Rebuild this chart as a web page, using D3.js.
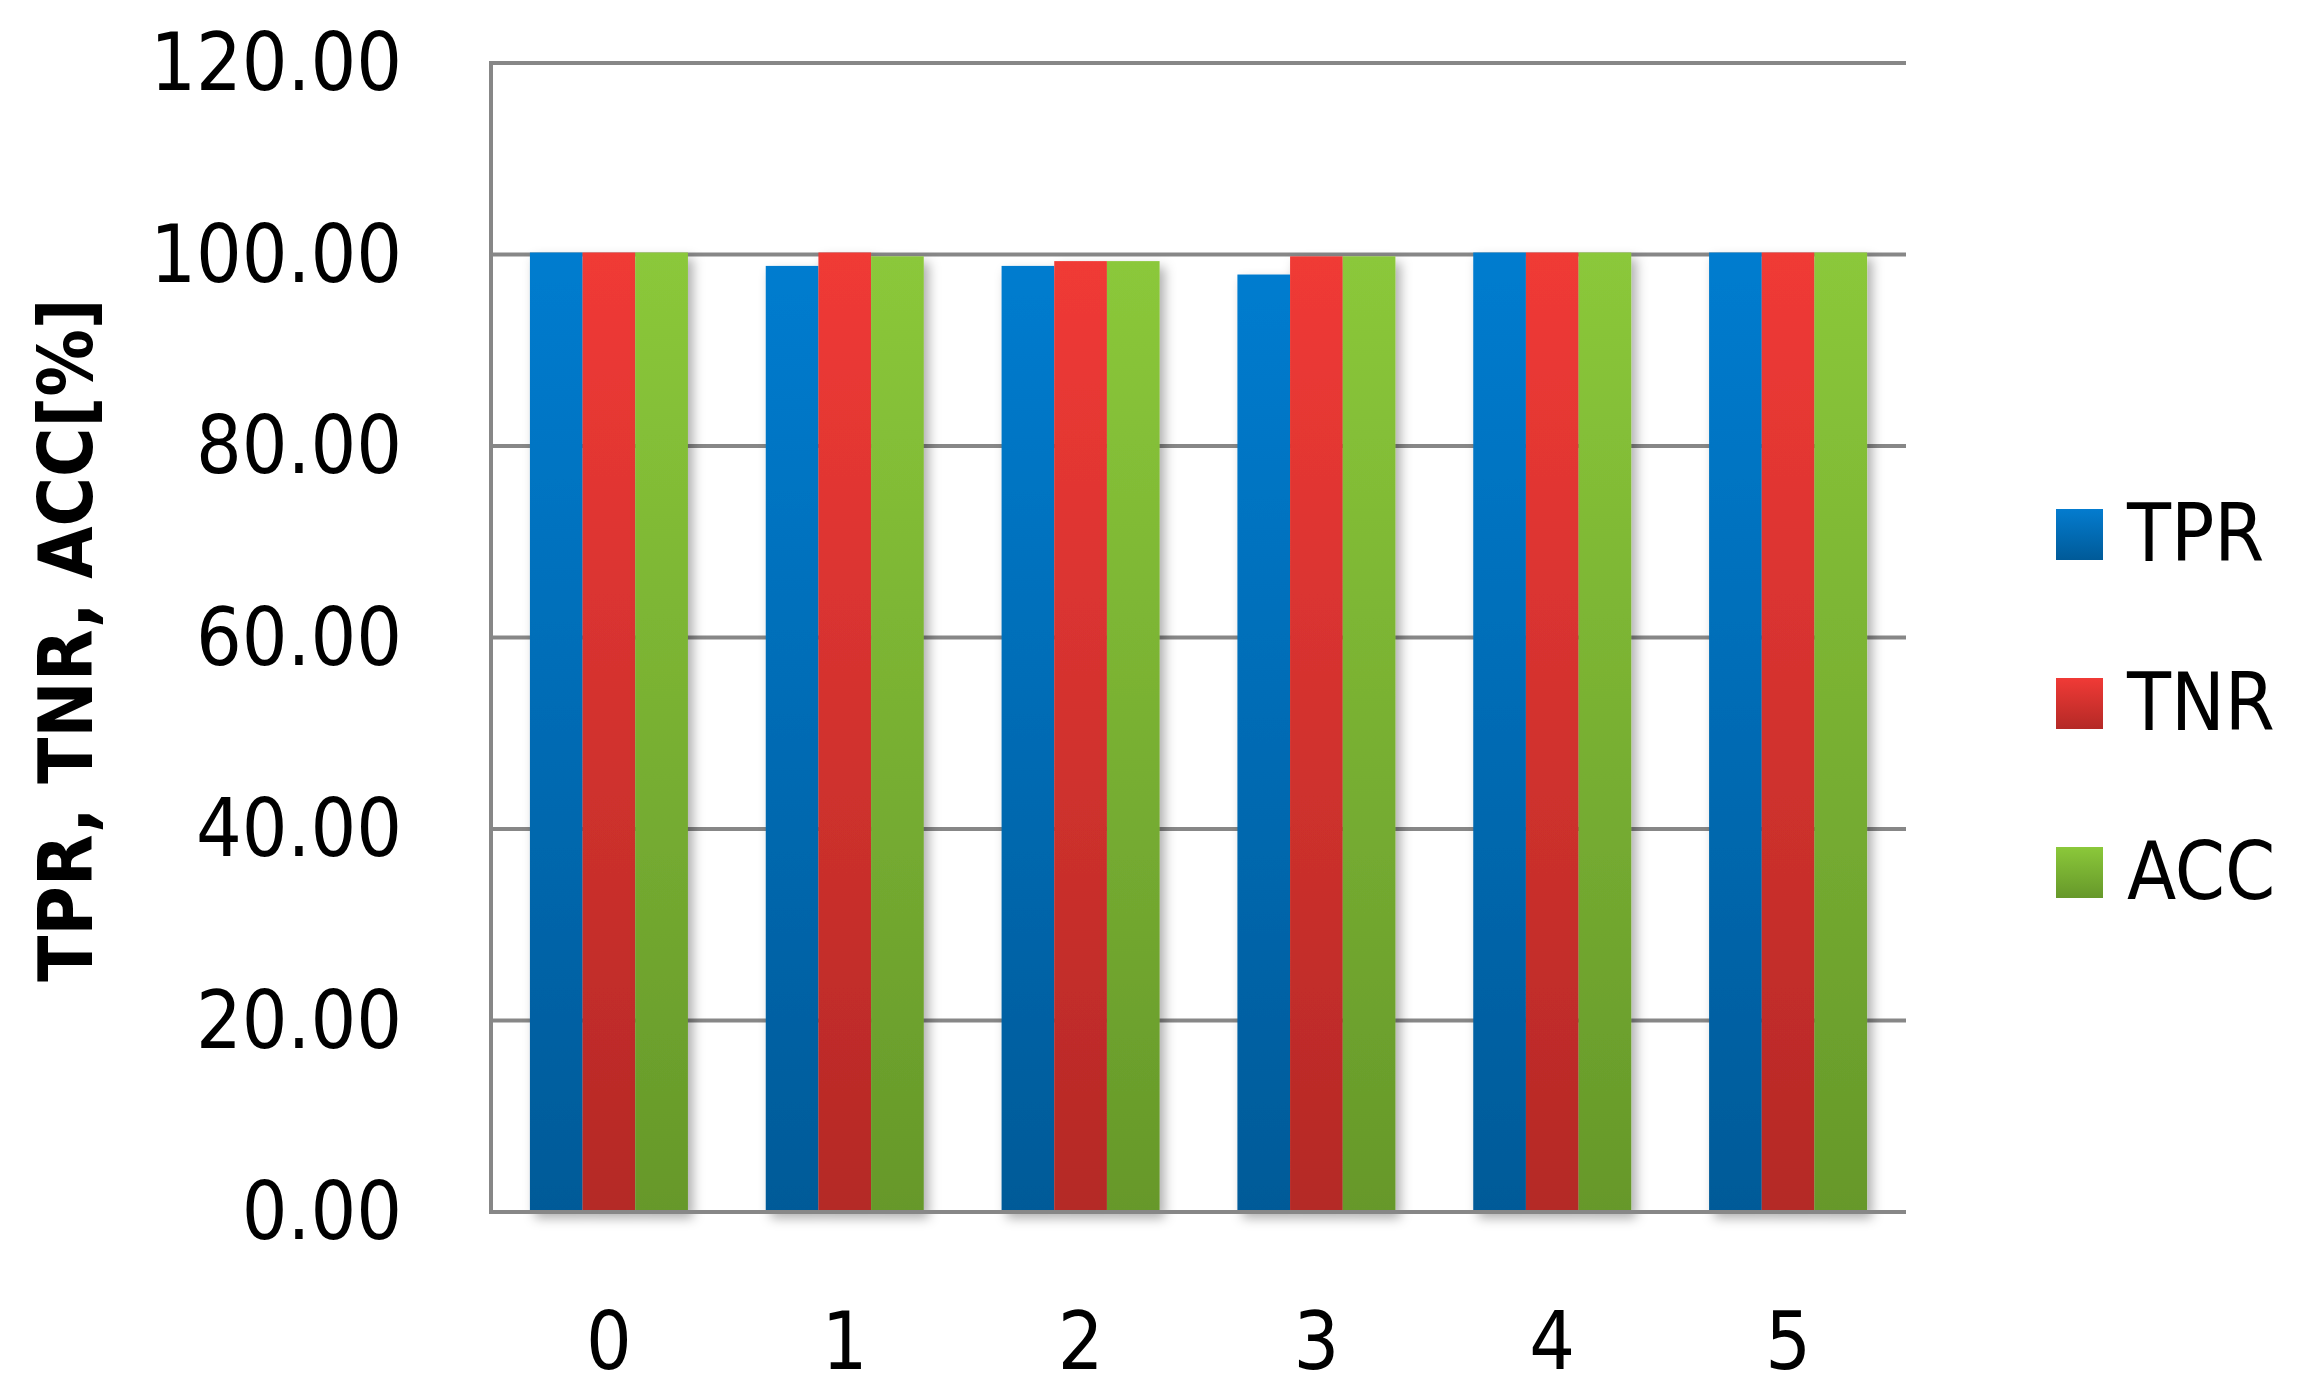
<!DOCTYPE html>
<html>
<head>
<meta charset="utf-8">
<script src="https://cdn.jsdelivr.net/npm/d3@7"></script>
<style>
  html, body { margin: 0; padding: 0; background: #fff; }
  svg { display: block; }
</style>
</head>
<body>
<svg id="chart" width="2308" height="1397"></svg>
<script>
const categories = ["0", "1", "2", "3", "4", "5"];
const seriesNames = ["TPR", "TNR", "ACC"];
const tprValues = [100, 98.6, 98.6, 97.7, 100, 100];
const tnrValues = [100, 100, 99.1, 99.6, 100, 100];
const accValues = [100, 99.6, 99.1, 99.6, 100, 100];
const yTicks = [0, 20, 40, 60, 80, 100, 120];
const yTitle = "TPR, TNR, ACC[%]";

(function () {
const seriesValues = [tprValues, tnrValues, accValues];
const colorTop = ["#047ccf", "#f03a36", "#8bc83a"];
const colorBottom = ["#005a98", "#b42926", "#66982a"];

const svg = d3.select("#chart");
const pLeft = 491, pRight = 1906, pTop = 63, pBottom = 1212;
const FONT = "'DejaVu Sans Condensed', 'DejaVu Sans', sans-serif";

const defs = svg.append("defs");
seriesNames.forEach((s, i) => {
  const g = defs.append("linearGradient").attr("id", "grad" + i)
    .attr("x1", 0).attr("y1", 0).attr("x2", 0).attr("y2", 1);
  g.append("stop").attr("offset", "0%").attr("stop-color", colorTop[i]);
  g.append("stop").attr("offset", "100%").attr("stop-color", colorBottom[i]);
});
const f = defs.append("filter").attr("id", "shadow")
  .attr("x", "-20%").attr("y", "-5%").attr("width", "150%").attr("height", "120%");
f.append("feDropShadow").attr("dx", 5).attr("dy", 6).attr("stdDeviation", 6)
  .attr("flood-color", "#000").attr("flood-opacity", 0.32);

const x = d3.scaleBand().domain(categories).range([pLeft, pRight])
  .paddingInner(0.33).paddingOuter(0.165);
const xs = d3.scaleBand().domain(seriesNames).range([0, x.bandwidth()]);
const y = d3.scaleLinear().domain([0, 120]).range([pBottom, pTop]);

// gridlines
svg.append("g").selectAll("line").data(yTicks.filter(t => t > 0)).join("line")
  .attr("x1", pLeft).attr("x2", pRight)
  .attr("y1", d => y(d)).attr("y2", d => y(d))
  .attr("stroke", "#878787").attr("stroke-width", 4);

// left axis line
svg.append("line").attr("x1", pLeft).attr("x2", pLeft)
  .attr("y1", y(120) - 2).attr("y2", y(0))
  .attr("stroke", "#878787").attr("stroke-width", 4);

// bars
const groups = svg.append("g").selectAll("g").data(categories).join("g")
  .attr("transform", d => `translate(${x(d)},0)`)
  .attr("filter", "url(#shadow)");
groups.selectAll("rect").data((c, ci) => seriesNames.map((s, si) => ({ s, si, v: seriesValues[si][ci] })))
  .join("rect")
  .attr("x", d => xs(d.s))
  .attr("width", xs.bandwidth())
  .attr("y", d => y(d.v) - 2)
  .attr("height", d => y(0) - y(d.v) + 2)
  .attr("fill", d => `url(#grad${d.si})`);

// bottom axis line
svg.append("line").attr("x1", pLeft - 2).attr("x2", pRight)
  .attr("y1", y(0)).attr("y2", y(0))
  .attr("stroke", "#878787").attr("stroke-width", 4);

// y tick labels
svg.append("g").selectAll("text").data(yTicks).join("text")
  .attr("x", 402).attr("y", d => y(d))
  .attr("dy", "0.34em")
  .attr("text-anchor", "end")
  .attr("font-family", FONT).attr("font-size", 80).attr("fill", "#000")
  .text(d => d3.format(".2f")(d));

// x tick labels
svg.append("g").selectAll("text").data(categories).join("text")
  .attr("x", d => x(d) + x.bandwidth() / 2).attr("y", 1369)
  .attr("text-anchor", "middle")
  .attr("font-family", FONT).attr("font-size", 80).attr("fill", "#000")
  .text(d => d);

// y title
svg.append("text")
  .attr("transform", `translate(92,640) rotate(-90)`)
  .attr("text-anchor", "middle")
  .attr("font-family", FONT).attr("font-weight", "bold").attr("font-size", 75).attr("fill", "#000")
  .text(yTitle);

// legend
const legend = svg.append("g").selectAll("g").data(seriesNames).join("g")
  .attr("transform", (d, i) => `translate(2056,${509 + i * 169})`);
legend.append("rect").attr("width", 47).attr("height", 51)
  .attr("fill", (d, i) => `url(#grad${i})`);
legend.append("text").attr("x", 71).attr("y", 52)
  .attr("font-family", FONT).attr("font-size", 80).attr("fill", "#000")
  .text(d => d);
})();
</script>
</body>
</html>
